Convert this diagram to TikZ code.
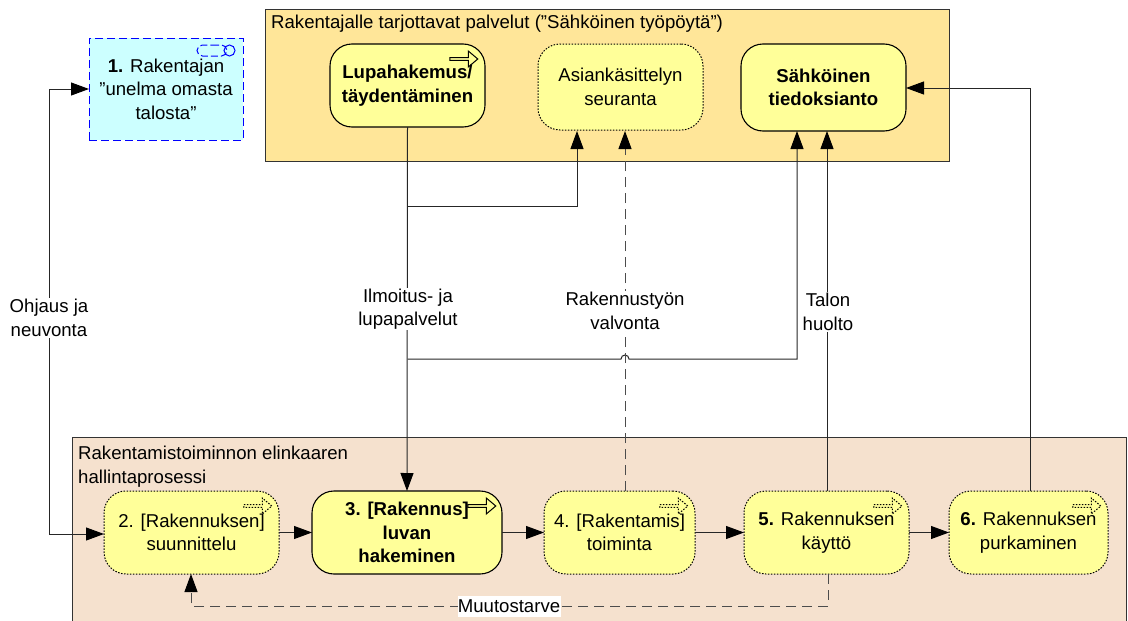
\documentclass[tikz,border=0pt]{standalone}
\usepackage{xcolor}
\usepackage{fontspec}
\setmainfont{Liberation Sans}
\usetikzlibrary{positioning, shapes.arrows, shapes.misc}
\usetikzlibrary{arrows.meta}
\tikzset{>={Triangle[width=13pt,length=18pt,black]}}
\definecolor{servicebg}{HTML}{FFE699}
\definecolor{lifecyclebg}{HTML}{F5E1CE}
\definecolor{stepyellow}{HTML}{FFFF99}
\definecolor{goalcyan}{HTML}{CCFFFF}

\begin{document}
\begin{tikzpicture}[x=1pt, y=-1pt, font=\fontsize{18.6}{23.5}\selectfont,
    container/.style={draw=black!80, line width=1pt, minimum height=152pt, outer sep=0pt, inner sep=0pt},
    mainstep/.style={rounded corners=22pt, draw=black, fill=stepyellow, line width=1.1pt, align=center, minimum height=83pt, outer sep=0pt, inner sep=0pt, font=\fontsize{18.6}{23.5}\selectfont\bfseries},
    substep/.style={rounded corners=22pt, draw=black, dash pattern=on 1.5pt off 1.5pt, fill=stepyellow, line width=1pt, align=center, minimum height=83pt, outer sep=0pt, inner sep=0pt},
    goal/.style={draw=blue, dash pattern=on 8pt off 4pt, fill=goalcyan, line width=.9pt, align=center, minimum width=154pt, minimum height=102pt, outer sep=0pt, inner sep=0pt},
    linelabel/.style={fill=white, align=center, inner sep=1pt},
    plainlabel/.style={align=left, inner sep=0pt, anchor=north west},
    procicon/.style={single arrow, draw=black, fill=none, solid, line width=1pt, minimum height=28pt, minimum width=16pt, single arrow head extend=2.5pt, single arrow tip angle=80, inner sep=0pt, outer sep=0pt},
    subicon/.style={procicon, dash pattern=on 1.5pt off 1.5pt},
    flow/.style={->, draw=black!85, line width=1pt},
    dashflow/.style={->, draw=black!70, line width=1pt, dash pattern=on 10pt off 6pt}]
    \useasboundingbox (0,0) rectangle (1128,621);

    %Containers
    \node[container, fill=servicebg, minimum width=684pt, anchor=north west](services) at (265,9){};
    \node[container, fill=lifecyclebg, minimum width=1054pt, minimum height=230pt, anchor=north west](lifecycle) at (72,437){};
    \node[plainlabel](servicestitle) at (271,15){Rakentajalle tarjottavat palvelut (”Sähköinen työpöytä”)};
    \node[plainlabel](lifecycletitle) at (78,446){Rakentamistoiminnon elinkaaren\\hallintaprosessi};

    %Nodes
    \node[goal, anchor=north west](dream) at (89,38){\textbf{1.} Rakentajan\\”unelma omasta\\talosta”};
    \node[mainstep, minimum width=155pt, anchor=north west](application) at (330,44){Lupahakemus/\\täydentäminen};
    \node[substep, minimum width=165pt, minimum height=86pt](tracking)[right=53pt of application.north east, anchor=north west]{Asiankäsittelyn\\seuranta};
    \node[mainstep, minimum width=165pt, minimum height=87pt](notice)[right=38pt of tracking.north east, anchor=north west]{Sähköinen\\tiedoksianto};

    \node[substep, minimum width=175pt, anchor=north west](design) at (104,491){2. [Rakennuksen]\\suunnittelu};
    \node[mainstep, minimum width=190pt](permit)[right=33pt of design]{3. [Rakennus]\\luvan\\hakeminen};
    \node[substep, minimum width=151pt](building)[right=42pt of permit]{4. [Rakentamis]\\toiminta};
    \node[substep, minimum width=165pt](usage)[right=49pt of building]{\textbf{5.} Rakennuksen\\käyttö};
    \node[substep, minimum width=159pt](demolition)[right=40pt of usage]{\textbf{6.} Rakennuksen\\purkaminen};

    %Icons
    \node[procicon](applicationicon) at ([xshift=-22pt,yshift=-15pt]application.north east){};
    \node[procicon](permiticon) at ([xshift=-21pt,yshift=-15pt]permit.north east){};
    \node[subicon](designicon) at ([xshift=-22pt,yshift=-15pt]design.north east){};
    \node[subicon](buildingicon) at ([xshift=-22pt,yshift=-15pt]building.north east){};
    \node[subicon](usageicon) at ([xshift=-22pt,yshift=-15pt]usage.north east){};
    \node[subicon](demolitionicon) at ([xshift=-22pt,yshift=-15pt]demolition.north east){};
    \node[draw=blue, dash pattern=on 7pt off 3pt, rounded rectangle, line width=1pt, minimum width=30pt, minimum height=11pt, inner sep=0pt](goalpill) at (212,50.5){};
    \node[draw=blue, circle, line width=1pt, minimum size=11pt, inner sep=0pt](goalring) at (229.5,50.5){};

    %Coordinates
    \coordinate (guidetop) at (49,89);
    \coordinate (guidebottom) at (49,534);
    \coordinate (dreamin) at (dream.west |- guidetop);
    \coordinate (designin) at (design.west |- guidebottom);
    \coordinate (trackbranch) at (application.south |- 0,206);
    \coordinate (trackin) at (577,131);
    \coordinate (noticebranch) at (application.south |- 0,359);
    \coordinate (hopstart) at (621,359);
    \coordinate (noticein) at (797,131);
    \coordinate (noticeturn) at (797,359);
    \coordinate (superviseout) at (625,491);
    \coordinate (supervisein) at (625,131);
    \coordinate (maintainout) at (827,491);
    \coordinate (maintainin) at (827,131);
    \coordinate (demolitionout) at (1030,491);
    \coordinate (demolitionturn) at (1030,88);
    \coordinate (noticeside) at (906,88);
    \coordinate (changeout) at (828,574);
    \coordinate (changeright) at (828,606);
    \coordinate (changeleft) at (191,606);
    \coordinate (changein) at (191,574);

    %Lines
    \draw[flow] (design.east) -- (permit.west);
    \draw[flow] (permit.east) -- (building.west);
    \draw[flow] (building.east) -- (usage.west);
    \draw[flow] (usage.east) -- (demolition.west);
    \draw[flow] (application.south) -- (permit.north);
    \draw[flow] (trackbranch) -| (trackin);
    \draw[flow] (noticebranch) -- (hopstart) arc[start angle=180, end angle=0, radius=4pt] -- (noticeturn) -- (noticein);
    \draw[dashflow] (superviseout) -- (supervisein);
    \draw[flow] (maintainout) -- (maintainin);
    \draw[flow] (demolitionout) -- (demolitionturn) -- (noticeside);
    \draw[flow, <->] (designin) -- (guidebottom) -- (guidetop) -- (dreamin);
    \draw[dashflow] (changeout) -- (changeright) -- (changeleft) -- (changein);

    %Labels
    \node[linelabel](guidance) at (49,318){Ohjaus ja\\neuvonta};
    \node[linelabel](permits) at (408,309){Ilmoitus- ja\\lupapalvelut};
    \node[linelabel](supervision) at (625,311){Rakennustyön\\valvonta};
    \node[linelabel](maintenance) at (828,312){Talon\\huolto};
    \node[linelabel, inner sep=0pt, minimum height=21pt, minimum width=103pt](change) at (509,606){Muutostarve};

\end{tikzpicture}
\end{document}
